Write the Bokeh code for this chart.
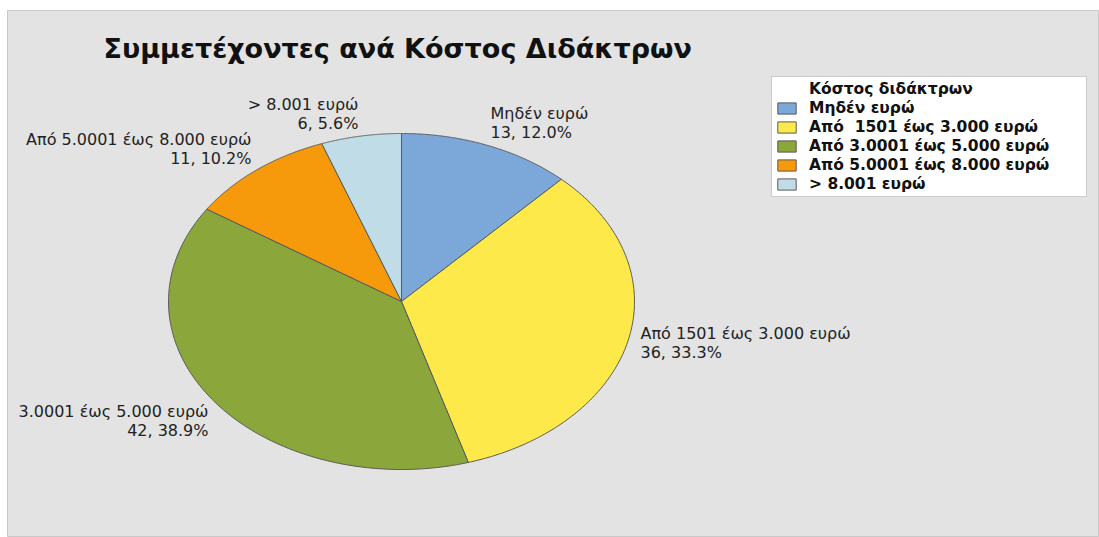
import numpy as np
from bokeh.plotting import figure
from bokeh.models import Range1d, Label, Legend, LegendItem
from bokeh.embed import file_html
from bokeh.resources import INLINE

# ---- data ----
categories = ["Μηδέν ευρώ", "Από  1501 έως 3.000 ευρώ", "Από 3.0001 έως 5.000 ευρώ",
              "Από 5.0001 έως 8.000 ευρώ", "> 8.001 ευρώ"]
slice_labels = ["Μηδέν ευρώ", "Από  1501 έως 3.000 ευρώ", "3.0001 έως 5.000 ευρώ",
                "Από 5.0001 έως 8.000 ευρώ", "> 8.001 ευρώ"]
counts = [13, 36, 42, 11, 6]
colors = ["#7ba7d9", "#fee94b", "#8ba73b", "#f6990b", "#bfdce7"]
title_text = "Συμμετέχοντες ανά Κόστος Διδάκτρων"
legend_title = "Κόστος διδάκτρων"

W, H = 1099, 537
FONT = "DejaVu Sans"
BG = "#e3e3e3"

p = figure(width=W, height=H, output_backend="svg", toolbar_location=None,
           x_range=Range1d(7, W), y_range=Range1d(H, 10),
           min_border=0, min_border_left=7, min_border_top=10,
           background_fill_color=BG, border_fill_color="white",
           outline_line_color="#c9c9c9", outline_line_width=1)
p.axis.visible = False
p.grid.visible = False

# pie geometry (stretched ellipse as in reference)
cx, cy, rx, ry = 401, 301, 233, 168
total = float(sum(counts))
fracs = np.array(counts) / total
ends = np.cumsum(fracs) * 2 * np.pi
starts = ends - fracs * 2 * np.pi

renderers = []
for a0, a1, col in zip(starts, ends, colors):
    t = np.linspace(a0, a1, 200)
    xs = [cx] + list(cx + rx * np.sin(t)) + [cx]
    ys = [cy] + list(cy - ry * np.cos(t)) + [cy]
    renderers.append(p.patch(xs, ys, fill_color=col, line_color="#5a5a5a", line_width=1))

# slice labels: (x, y, align)
label_pos = [(490, 113, "left"), (640, 333, "left"), (208, 411, "right"),
             (251, 139, "right"), (358, 104, "right")]
for i, (lx, ly, al) in enumerate(label_pos):
    pct = 100.0 * counts[i] / total
    for j, txt in enumerate([slice_labels[i], f"{counts[i]}, {pct:.1f}%"]):
        p.add_layout(Label(x=lx, y=ly + j * 19, text=txt, text_align=al,
                           text_baseline="middle", text_font=FONT,
                           text_font_size="16px", text_color="#222222"))

# title
p.add_layout(Label(x=103, y=48, text=title_text, text_baseline="middle", text_align="left",
                   text_font=FONT, text_font_size="27px", text_font_style="bold",
                   text_color="#111111"))

# legend (heading drawn as an item with an invisible swatch so it aligns with labels)
heading = p.patch([], [], fill_alpha=0, line_alpha=0)
items = [LegendItem(label=legend_title, renderers=[heading])]
items += [LegendItem(label=c, renderers=[r]) for c, r in zip(categories, renderers)]
legend = Legend(items=items, location=(764, 340),
                label_text_font=FONT, label_text_font_size="15.5px",
                label_text_font_style="bold", label_text_color="#111111",
                label_height=18, glyph_height=14, glyph_width=23,
                label_standoff=11, spacing=1, padding=3, margin=0, label_width=274,
                border_line_color="#9a9a9a", background_fill_color="white",
                background_fill_alpha=1.0)
p.add_layout(legend, "center")

open("out.html", "w").write(file_html(p, INLINE))
